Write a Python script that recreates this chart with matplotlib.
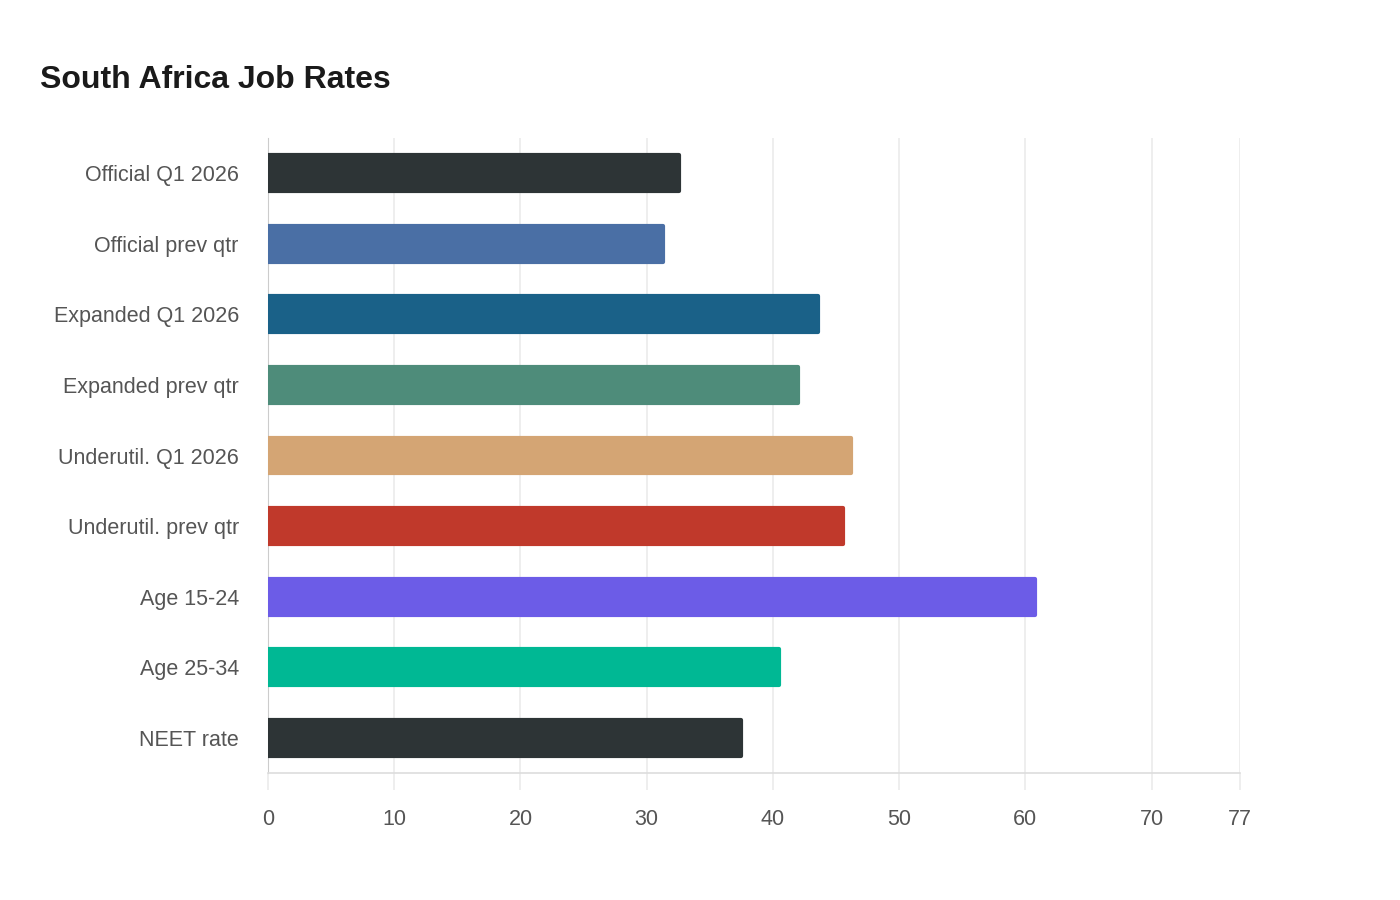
import matplotlib
matplotlib.use('Agg')
import matplotlib.pyplot as plt

plt.rcParams['font.family'] = ['Liberation Sans', 'DejaVu Sans']

TITLE_COLOR = '#1a1a1a'
LABEL_COLOR = '#555555'
GRID_COLOR = '#ebebeb'

categories = ['Official Q1 2026', 'Official prev qtr', 'Expanded Q1 2026', 'Expanded prev qtr',
              'Underutil. Q1 2026', 'Underutil. prev qtr', 'Age 15-24', 'Age 25-34', 'NEET rate']
rates = [32.7, 31.4, 43.7, 42.1, 46.3, 45.7, 60.9, 40.6, 37.6]
bar_colors = ['#2d3436', '#4a6fa5', '#1a6188', '#4e8c7a', '#d4a574',
              '#c0392b', '#6c5ce7', '#00b894', '#2d3436']
x_ticks = [0, 10, 20, 30, 40, 50, 60, 70, 77]

figure = plt.figure(figsize=(14, 9), dpi=100, facecolor='white')
axes = figure.add_axes([268 / 1400, 1 - 773 / 900, (1240 - 268) / 1400, (773 - 138) / 900])

y_pos = list(range(len(categories)))
# rounded ends via a thick edge with round joins
axes.barh(y_pos, [r - 0.12 for r in rates], height=0.51, color=bar_colors,
          edgecolor=bar_colors, linewidth=3, joinstyle='round', zorder=3)

axes.set_xlim(0, 77)
axes.set_ylim(len(categories) - 0.5, -0.5)
axes.set_yticks(y_pos, categories)
axes.set_xticks(x_ticks, [str(t) for t in x_ticks])

axes.grid(axis='x', color=GRID_COLOR, linewidth=1.2, zorder=0)
axes.spines['top'].set_visible(False)
axes.spines['right'].set_visible(False)
axes.spines['left'].set_color('#cccccc')
axes.spines['bottom'].set_color('#dddddd')
axes.spines['bottom'].set_linewidth(1.2)
axes.tick_params(axis='y', length=0, pad=21, labelsize=15.5, labelcolor=LABEL_COLOR)
axes.tick_params(axis='x', length=12, width=1.2, color=GRID_COLOR, pad=14,
                 labelsize=15.5, labelcolor=LABEL_COLOR)

figure.text(40 / 1400, 1 - 80 / 900, 'South Africa Job Rates', fontsize=23, fontweight='bold',
            color=TITLE_COLOR, va='center', ha='left')

figure.savefig('out.png', dpi=100, facecolor='white')
